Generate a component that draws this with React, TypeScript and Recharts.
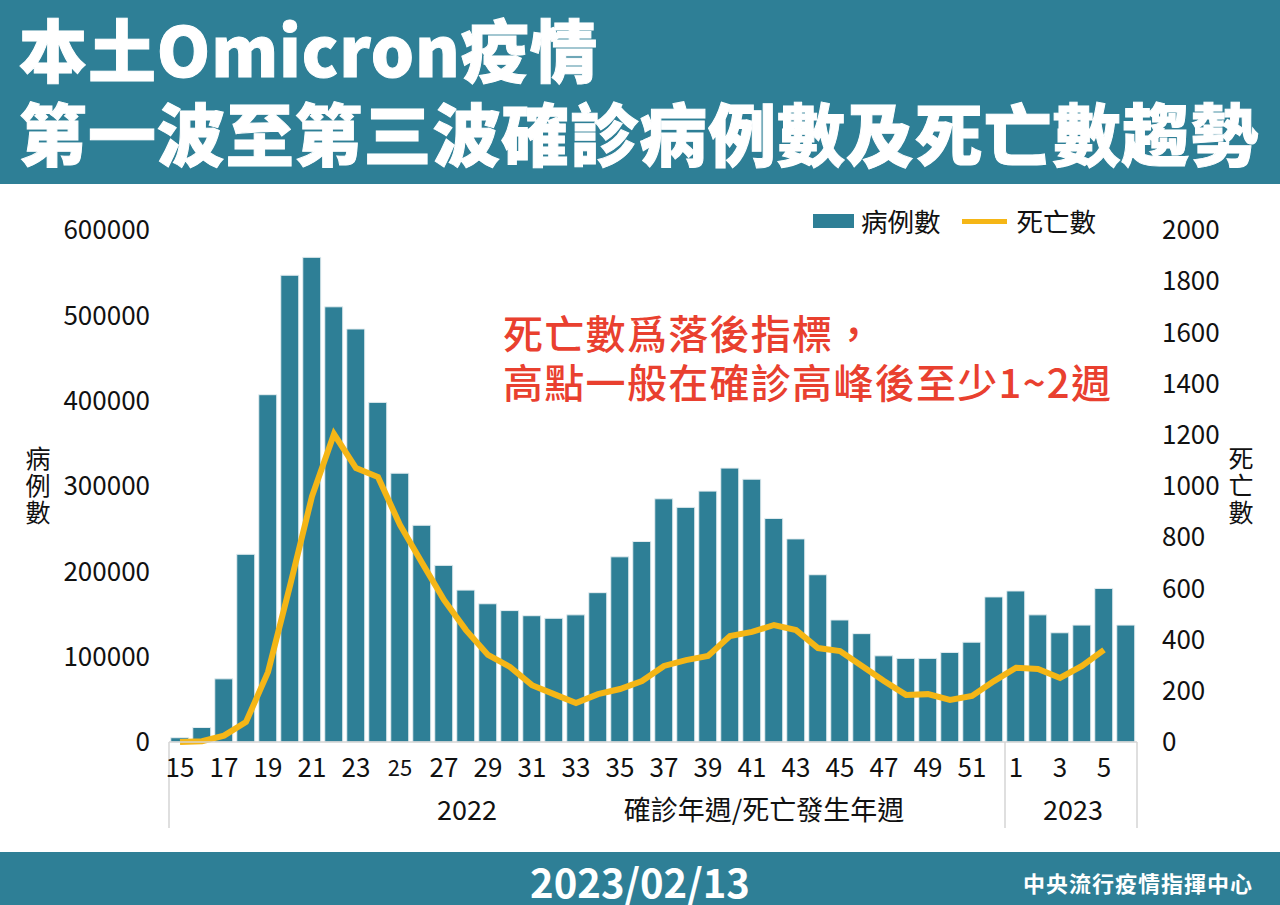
import { Bar, ComposedChart, Legend, Line, XAxis, YAxis } from "recharts";

const FONT = '"Noto Sans CJK TC", "Noto Sans", sans-serif';
const TEAL = "#2E7F96";
const GOLD = "#F5B616";

const weeks = [
  "15", "16", "17", "18", "19", "20", "21", "22", "23", "24", "25", "26", "27", "28", "29",
  "30", "31", "32", "33", "34", "35", "36", "37", "38", "39", "40", "41", "42", "43", "44",
  "45", "46", "47", "48", "49", "50", "51", "52", "1", "2", "3", "4", "5", "6",
];
const cases = [
  5000, 17000, 74000, 220000, 407000, 547000, 568000, 510000, 484000, 398000, 315000, 254000,
  207000, 178000, 162000, 154000, 148000, 145000, 149000, 175000, 217000, 235000, 285000, 275000,
  294000, 321000, 308000, 262000, 238000, 196000, 143000, 127000, 101000, 98000, 98000, 105000,
  117000, 170000, 177000, 149000, 128000, 137000, 180000, 137000,
];
const deaths = [
  0, 3, 25, 78, 273, 610, 960, 1203, 1070, 1035, 848, 700, 555, 437, 340, 293, 222, 187, 152, 187,
  207, 238, 297, 320, 336, 414, 430, 457, 437, 367, 355, 297, 238, 184, 187, 164, 180, 238, 290,
  285, 250, 297, 360, null,
];
const leftTicks = [0, 100000, 200000, 300000, 400000, 500000, 600000];
const rightTicks = [0, 200, 400, 600, 800, 1000, 1200, 1400, 1600, 1800, 2000];

const data = weeks.map((week, i) => ({ week, cases: cases[i], deaths: deaths[i] }));

const band = 968 / weeks.length;

function WeekTick({ x, y, index, payload }: any) {
  const lines = [];
  if (index === 0 || payload.value === "1") lines.push(x - band / 2);
  if (index === weeks.length - 1) lines.push(x + band / 2);
  return (
    <g>
      {lines.map((lx) => (
        <line key={lx} x1={lx} x2={lx} y1={y - 8} y2={y + 78} stroke="#d4d4d4" strokeWidth={1.5} />
      ))}
      {index % 2 === 0 && (
        <text
          x={x}
          y={y + 18}
          dy="0.36em"
          textAnchor="middle"
          fontFamily={FONT}
          fontSize={payload.value === "25" ? 22 : 26}
          fill="#111"
        >
          {payload.value}
        </text>
      )}
    </g>
  );
}

function ChartLegend({ payload }: any) {
  return (
    <div
      style={{
        display: "flex",
        alignItems: "center",
        height: 36,
        lineHeight: "36px",
        fontFamily: FONT,
        fontSize: 26.5,
        color: "#111",
      }}
    >
      {payload.map((item: any) => (
        <div key={item.value} style={{ display: "flex", alignItems: "center", marginRight: 21 }}>
          <span
            style={{
              width: item.type === "line" ? 45 : 41,
              height: item.type === "line" ? 5 : 14,
              background: item.color,
              marginRight: item.type === "line" ? 10 : 7,
            }}
          />
          {item.value}
        </div>
      ))}
    </div>
  );
}

function Side({ left, text }: { left: number; text: string }) {
  return (
    <div
      style={{
        position: "absolute",
        left,
        top: 446,
        writingMode: "vertical-rl",
        fontSize: 25,
        lineHeight: "30px",
        letterSpacing: 2,
        fontFamily: FONT,
        color: "#111",
      }}
    >
      {text}
    </div>
  );
}

function Label({ cx, top, text }: { cx: number; top: number; text: string }) {
  return (
    <div
      style={{
        position: "absolute",
        left: cx - 200,
        width: 400,
        top,
        textAlign: "center",
        fontSize: 27,
        lineHeight: "34px",
        fontFamily: FONT,
        color: "#111",
      }}
    >
      {text}
    </div>
  );
}

export default function App() {
  return (
    <div
      style={{
        position: "absolute",
        left: 0,
        top: 0,
        width: 1280,
        height: 905,
        background: "#fff",
        overflow: "hidden",
        fontFamily: FONT,
      }}
    >
      <div style={{ position: "absolute", left: 0, top: 0, width: 1280, height: 184, background: TEAL }} />
      <div
        style={{
          position: "absolute",
          left: 19,
          top: 6,
          color: "#fff",
          fontSize: 68,
          fontWeight: 900,
          lineHeight: "84px",
          letterSpacing: 0.9,
          whiteSpace: "nowrap",
          WebkitTextStroke: "1px #fff",
        }}
      >
        <div>本土Omicron疫情</div>
        <div>第一波至第三波確診病例數及死亡數趨勢</div>
      </div>

      <div style={{ position: "absolute", left: 0, top: 0 }}>
        <ComposedChart
          width={1280}
          height={905}
          data={data}
          margin={{ top: 230, right: 0, bottom: 37, left: 0 }}
          barCategoryGap="8%"
        >
          <XAxis
            dataKey="week"
            interval={0}
            height={90}
            stroke="#d4d4d4"
            strokeWidth={1.5}
            tickLine={false}
            tick={<WeekTick />}
          />
          <YAxis
            yAxisId="left"
            width={169}
            domain={[0, 600000]}
            ticks={leftTicks}
            axisLine={false}
            tickLine={false}
            tickSize={0}
            tickMargin={19}
            tick={{ fontFamily: FONT, fontSize: 26, fill: "#111" }}
          />
          <YAxis
            yAxisId="right"
            orientation="right"
            width={143}
            domain={[0, 2000]}
            ticks={rightTicks}
            axisLine={false}
            tickLine={false}
            tickSize={0}
            tickMargin={25}
            tick={{ fontFamily: FONT, fontSize: 26, fill: "#111" }}
          />
          <Legend
            content={<ChartLegend />}
            itemSorter={null}
            wrapperStyle={{ position: "absolute", left: 813, top: 203, width: "auto" }}
          />
          <Bar
            yAxisId="left"
            dataKey="cases"
            name="病例數"
            fill={TEAL}
            stroke="#e6eef1"
            strokeWidth={1}
            isAnimationActive={false}
          />
          <Line
            yAxisId="right"
            dataKey="deaths"
            name="死亡數"
            stroke={GOLD}
            strokeWidth={6}
            dot={false}
            activeDot={false}
            type="linear"
            isAnimationActive={false}
          />
        </ComposedChart>
      </div>

      <div
        style={{
          position: "absolute",
          left: 503,
          top: 308,
          color: "#E9402F",
          fontSize: 40,
          fontWeight: 500,
          lineHeight: "49px",
          letterSpacing: 1.3,
          whiteSpace: "nowrap",
        }}
      >
        <div>死亡數爲落後指標，</div>
        <div>高點一般在確診高峰後至少1~2週</div>
      </div>

      <Side left={23} text="病例數" />
      <Side left={1226} text="死亡數" />

      <Label cx={467} top={792} text="2022" />
      <Label cx={764} top={792} text="確診年週/死亡發生年週" />
      <Label cx={1073} top={792} text="2023" />

      <div style={{ position: "absolute", left: 0, top: 852, width: 1280, height: 53, background: TEAL }} />
      <div
        style={{
          position: "absolute",
          left: 440,
          top: 857,
          width: 400,
          textAlign: "center",
          color: "#fff",
          fontSize: 40,
          fontWeight: 700,
          lineHeight: "48px",
        }}
      >
        2023/02/13
      </div>
      <div
        style={{
          position: "absolute",
          left: 1023,
          top: 866,
          color: "#fff",
          fontSize: 22,
          fontWeight: 700,
          lineHeight: "32px",
          letterSpacing: 1,
          whiteSpace: "nowrap",
        }}
      >
        中央流行疫情指揮中心
      </div>
    </div>
  );
}
